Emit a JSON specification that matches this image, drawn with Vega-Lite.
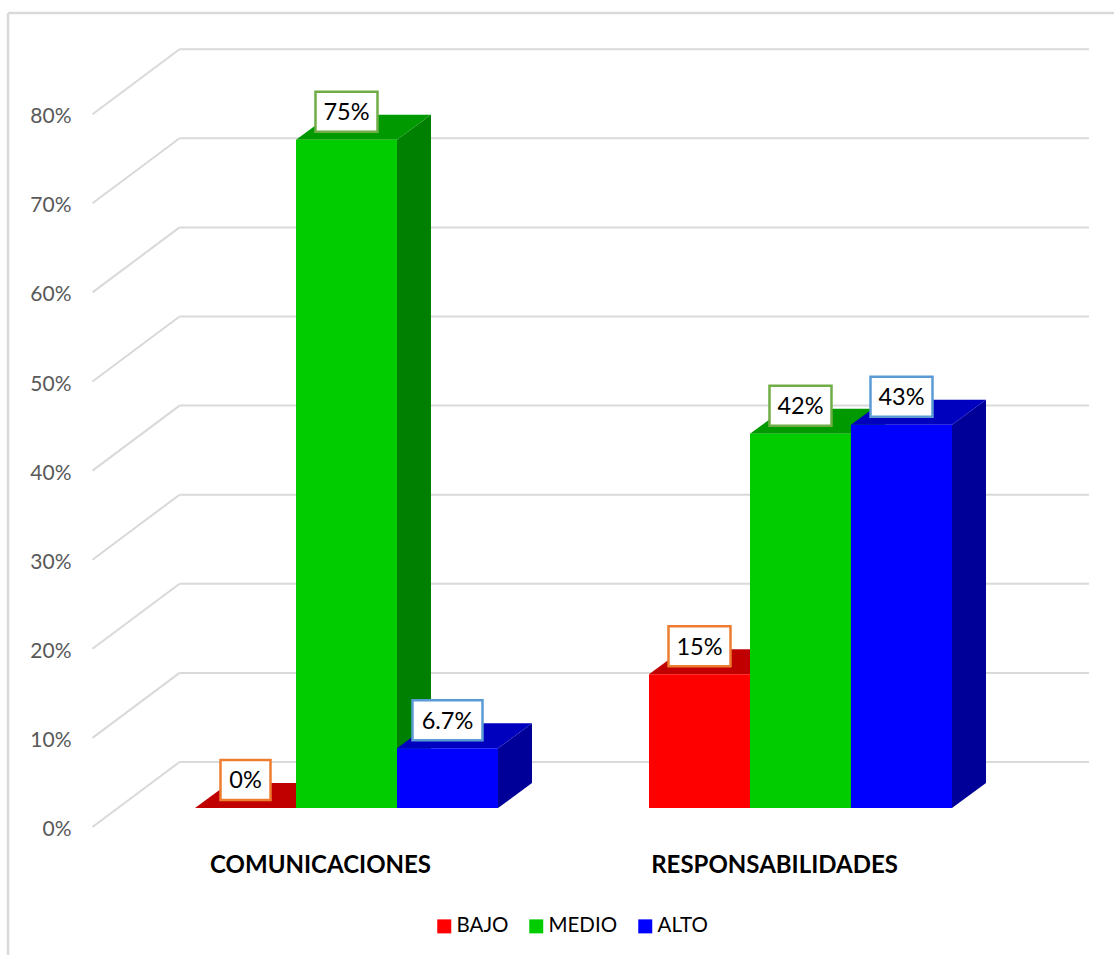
{
  "$schema": "https://vega.github.io/schema/vega-lite/v6.json",
  "width": 1114,
  "height": 955,
  "padding": 0,
  "autosize": "none",
  "background": "white",
  "config": {"view": {"stroke": null}, "font": "Lato"},
  "datasets": {
    "barras": [
      {"grupo": "COMUNICACIONES", "nivel": "BAJO", "valor": 0, "etiqueta": "0%"},
      {"grupo": "COMUNICACIONES", "nivel": "MEDIO", "valor": 75, "etiqueta": "75%"},
      {"grupo": "COMUNICACIONES", "nivel": "ALTO", "valor": 6.7, "etiqueta": "6.7%"},
      {"grupo": "RESPONSABILIDADES", "nivel": "BAJO", "valor": 15, "etiqueta": "15%"},
      {"grupo": "RESPONSABILIDADES", "nivel": "MEDIO", "valor": 42, "etiqueta": "42%"},
      {"grupo": "RESPONSABILIDADES", "nivel": "ALTO", "valor": 43, "etiqueta": "43%"}
    ],
    "marcas": [
      {"marca": 0}, {"marca": 10}, {"marca": 20}, {"marca": 30}, {"marca": 40},
      {"marca": 50}, {"marca": 60}, {"marca": 70}, {"marca": 80}
    ]
  },
  "layer": [
    {
      "description": "Eje de porcentajes, desplazado al frente del suelo",
      "data": {"name": "marcas"},
      "mark": {"type": "rule", "strokeOpacity": 0},
      "encoding": {
        "y": {
          "field": "marca", "type": "quantitative",
          "scale": {"domain": [-16.498, 90.685], "nice": false, "zero": false},
          "axis": {
            "title": null, "values": [0, 10, 20, 30, 40, 50, 60, 70, 80],
            "labelExpr": "datum.value + '%'", "offset": -73, "labelPadding": 2, "labelOffset": 21.5,
            "domain": false, "ticks": false, "grid": false,
            "labelColor": "#595959", "labelFontSize": 21, "labelFont": "Lato"
          }
        }
      }
    },
    {
      "description": "Marco del grafico: borde superior",
      "data": {"values": [{"x0": -1.851, "x1": 9.099, "y0": 89.226}]},
      "mark": {"type": "rule", "stroke": "#D9D9D9", "strokeWidth": 2.5},
      "encoding": {
        "x": {"field": "x0", "type": "quantitative", "axis": null, "scale": {"domain": [-1.9307, 9.099], "nice": false, "zero": false}},
        "x2": {"field": "x1"},
        "y": {"field": "y0", "type": "quantitative", "scale": {"domain": [-16.498, 90.685], "nice": false, "zero": false}}
      }
    },
    {
      "description": "Marco del grafico: borde izquierdo",
      "data": {"values": [{"x0": -1.851, "y0": 89.226, "y1": -16.498}]},
      "mark": {"type": "rule", "stroke": "#D9D9D9", "strokeWidth": 2.5},
      "encoding": {
        "x": {"field": "x0", "type": "quantitative", "axis": null, "scale": {"domain": [-1.9307, 9.099], "nice": false, "zero": false}},
        "y": {"field": "y0", "type": "quantitative", "scale": {"domain": [-16.498, 90.685], "nice": false, "zero": false}},
        "y2": {"field": "y1"}
      }
    },
    {
      "description": "Rejilla: tramo diagonal sobre el suelo",
      "data": {"name": "marcas"},
      "transform": [
        {"calculate": "datum.marca - 2.132", "as": "frente"},
        {"calculate": "datum.marca + 5.163", "as": "fondo"},
        {"calculate": "-1.015", "as": "xFrente"},
        {"calculate": "-0.153", "as": "xFondo"}
      ],
      "mark": {"type": "rule", "stroke": "#D9D9D9", "strokeWidth": 2},
      "encoding": {
        "x": {"field": "xFrente", "type": "quantitative", "axis": null, "scale": {"domain": [-1.9307, 9.099], "nice": false, "zero": false}},
        "x2": {"field": "xFondo"},
        "y": {"field": "frente", "type": "quantitative", "scale": {"domain": [-16.498, 90.685], "nice": false, "zero": false}},
        "y2": {"field": "fondo"}
      }
    },
    {
      "description": "Rejilla: tramo horizontal de la pared del fondo",
      "data": {"name": "marcas"},
      "transform": [
        {"calculate": "datum.marca + 5.163", "as": "fondo"},
        {"calculate": "-0.153", "as": "xFondo"},
        {"calculate": "8.851", "as": "xFin"}
      ],
      "mark": {"type": "rule", "stroke": "#D9D9D9", "strokeWidth": 2},
      "encoding": {
        "x": {"field": "xFondo", "type": "quantitative", "axis": null, "scale": {"domain": [-1.9307, 9.099], "nice": false, "zero": false}},
        "x2": {"field": "xFin"},
        "y": {"field": "fondo", "type": "quantitative", "scale": {"domain": [-16.498, 90.685], "nice": false, "zero": false}}
      }
    },
    {
      "description": "Cara lateral de cada barra",
      "data": {"name": "barras"},
      "transform": [
        {"calculate": "(datum.grupo === 'COMUNICACIONES' ? 0 : 4.495) + indexof(['BAJO', 'MEDIO', 'ALTO'], datum.nivel)", "as": "pos"},
        {"calculate": "[0, 1]", "as": "prof"},
        {"flatten": ["prof"]},
        {"calculate": "datum.pos + 1 + datum.prof * 0.3366", "as": "xCara"},
        {"calculate": "datum.prof * 2.806", "as": "yBase"},
        {"calculate": "datum.valor + datum.prof * 2.806", "as": "yTope"}
      ],
      "mark": {"type": "area", "orient": "vertical"},
      "encoding": {
        "x": {"field": "xCara", "type": "quantitative", "axis": null, "scale": {"domain": [-1.9307, 9.099], "nice": false, "zero": false}},
        "y": {"field": "yTope", "type": "quantitative", "stack": null, "scale": {"domain": [-16.498, 90.685], "nice": false, "zero": false}},
        "y2": {"field": "yBase"},
        "detail": {"field": "grupo"},
        "color": {"field": "nivel", "type": "nominal", "legend": null, "scale": {"domain": ["BAJO", "MEDIO", "ALTO"], "range": ["#A00000", "#008000", "#000099"]}}
      }
    },
    {
      "description": "Cara superior de cada barra",
      "data": {"name": "barras"},
      "transform": [
        {"calculate": "(datum.grupo === 'COMUNICACIONES' ? 0 : 4.495) + indexof(['BAJO', 'MEDIO', 'ALTO'], datum.nivel)", "as": "pos"},
        {"calculate": "[0, 1]", "as": "prof"},
        {"flatten": ["prof"]},
        {"calculate": "datum.pos + datum.prof * 0.3366", "as": "xIzq"},
        {"calculate": "datum.pos + 1 + datum.prof * 0.3366", "as": "xDer"},
        {"calculate": "datum.valor + datum.prof * 2.806", "as": "yCara"}
      ],
      "mark": {"type": "area", "orient": "horizontal"},
      "encoding": {
        "y": {"field": "yCara", "type": "quantitative", "scale": {"domain": [-16.498, 90.685], "nice": false, "zero": false}},
        "x": {"field": "xIzq", "type": "quantitative", "axis": null, "stack": null, "scale": {"domain": [-1.9307, 9.099], "nice": false, "zero": false}},
        "x2": {"field": "xDer"},
        "detail": {"field": "grupo"},
        "color": {"field": "nivel", "type": "nominal", "legend": null, "scale": {"domain": ["BAJO", "MEDIO", "ALTO"], "range": ["#C00000", "#009900", "#0000BF"]}}
      }
    },
    {
      "description": "Cara frontal de cada barra y leyenda de niveles",
      "data": {"name": "barras"},
      "transform": [
        {"calculate": "(datum.grupo === 'COMUNICACIONES' ? 0 : 4.495) + indexof(['BAJO', 'MEDIO', 'ALTO'], datum.nivel)", "as": "pos"},
        {"calculate": "datum.pos + 1", "as": "posFin"},
        {"calculate": "0", "as": "base"}
      ],
      "mark": {"type": "rect"},
      "encoding": {
        "x": {"field": "pos", "type": "quantitative", "axis": null, "scale": {"domain": [-1.9307, 9.099], "nice": false, "zero": false}},
        "x2": {"field": "posFin"},
        "y": {"field": "valor", "type": "quantitative", "scale": {"domain": [-16.498, 90.685], "nice": false, "zero": false}},
        "y2": {"field": "base"},
        "color": {
          "field": "nivel", "type": "nominal",
          "scale": {"domain": ["BAJO", "MEDIO", "ALTO"], "range": ["#FF0000", "#00CC00", "#0000FF"]},
          "legend": {
            "title": null, "orient": "none", "direction": "horizontal", "columns": 3,
            "legendX": 434, "legendY": 916,
            "symbolType": "square", "symbolSize": 196, "symbolStrokeWidth": 0,
            "labelFontSize": 20.5, "labelFont": "Lato", "labelColor": "#000000",
            "labelOffset": 2, "columnPadding": 17, "padding": 0
          }
        }
      }
    },
    {
      "description": "Recuadro de cada etiqueta de valor",
      "data": {"name": "barras"},
      "transform": [
        {"calculate": "(datum.grupo === 'COMUNICACIONES' ? 0 : 4.495) + indexof(['BAJO', 'MEDIO', 'ALTO'], datum.nivel)", "as": "pos"},
        {"calculate": "(length(datum.etiqueta) === 2 ? 25 : length(datum.etiqueta) === 3 ? 31 : 35) / 101", "as": "ancho"},
        {"calculate": "datum.pos + 0.5 - datum.ancho", "as": "cajaIzq"},
        {"calculate": "datum.pos + 0.5 + datum.ancho", "as": "cajaDer"},
        {"calculate": "datum.valor + 3.143 - 2.245", "as": "cajaBase"},
        {"calculate": "datum.valor + 3.143 + 2.245", "as": "cajaTope"}
      ],
      "mark": {"type": "rect", "fill": "white", "strokeWidth": 2.5},
      "encoding": {
        "x": {"field": "cajaIzq", "type": "quantitative", "axis": null, "scale": {"domain": [-1.9307, 9.099], "nice": false, "zero": false}},
        "x2": {"field": "cajaDer"},
        "y": {"field": "cajaBase", "type": "quantitative", "scale": {"domain": [-16.498, 90.685], "nice": false, "zero": false}},
        "y2": {"field": "cajaTope"},
        "stroke": {"field": "nivel", "type": "nominal", "legend": null, "scale": {"domain": ["BAJO", "MEDIO", "ALTO"], "range": ["#ED7D31", "#70AD47", "#5B9BD5"]}}
      }
    },
    {
      "description": "Texto de cada etiqueta de valor",
      "data": {"name": "barras"},
      "transform": [
        {"calculate": "(datum.grupo === 'COMUNICACIONES' ? 0 : 4.495) + indexof(['BAJO', 'MEDIO', 'ALTO'], datum.nivel) + 0.5", "as": "centro"},
        {"calculate": "datum.valor + 3.143", "as": "yTexto"}
      ],
      "mark": {"type": "text", "font": "Lato", "fontSize": 23.5, "color": "#000000", "align": "center", "baseline": "middle", "dy": 1.5},
      "encoding": {
        "x": {"field": "centro", "type": "quantitative", "axis": null, "scale": {"domain": [-1.9307, 9.099], "nice": false, "zero": false}},
        "y": {"field": "yTexto", "type": "quantitative", "scale": {"domain": [-16.498, 90.685], "nice": false, "zero": false}},
        "text": {"field": "etiqueta"}
      }
    },
    {
      "description": "Nombre de cada categoria bajo sus barras",
      "data": {"name": "barras"},
      "transform": [
        {"filter": "datum.nivel === 'MEDIO'"},
        {"calculate": "(datum.grupo === 'COMUNICACIONES' ? 0 : 4.495) + 1.5 - 0.257", "as": "centro"},
        {"calculate": "-6.397", "as": "yTexto"}
      ],
      "mark": {"type": "text", "font": "Lato", "fontWeight": "bold", "fontSize": 24, "color": "#000000", "align": "center", "baseline": "middle", "dy": 1},
      "encoding": {
        "x": {"field": "centro", "type": "quantitative", "axis": null, "scale": {"domain": [-1.9307, 9.099], "nice": false, "zero": false}},
        "y": {"field": "yTexto", "type": "quantitative", "scale": {"domain": [-16.498, 90.685], "nice": false, "zero": false}},
        "text": {"field": "grupo"}
      }
    }
  ],
  "resolve": {"scale": {"color": "independent", "stroke": "independent"}}
}
